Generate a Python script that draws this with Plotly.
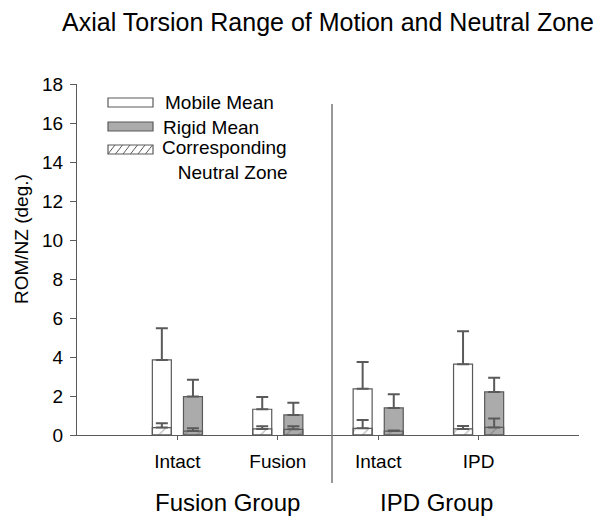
import plotly.graph_objects as go

# values (degrees)
categories = ["Intact", "Fusion", "Intact", "IPD"]
cat_pos = [1, 2, 3, 4]
groups = ["Fusion Group", "IPD Group"]

mobile_rom = [3.85, 1.32, 2.37, 3.63]
mobile_rom_err = [5.48, 1.95, 3.74, 5.32]
rigid_rom = [1.97, 1.03, 1.39, 2.21]
rigid_rom_err = [2.83, 1.65, 2.09, 2.93]

mobile_nz = [0.38, 0.31, 0.34, 0.31]
mobile_nz_err = [0.60, 0.45, 0.77, 0.46]
rigid_nz = [0.20, 0.29, 0.20, 0.39]
rigid_nz_err = [0.34, 0.45, 0.23, 0.84]

legend_labels = ["Mobile Mean", "Rigid Mean", "Corresponding<br>   Neutral Zone"]

edge = "#5a5a5a"
font = "Liberation Sans, Arial, sans-serif"

# plot area in page pixels (reference): left 77, top 84, 502 x 351
PX0, PY0, PW, PH = 77, 84, 502, 351


def px(x):
    return (x - PX0) / PW


def py(y):
    return (PY0 + PH - y) / PH


def up_err(top, val):
    return dict(type="data", symmetric=False,
                array=[t - v for t, v in zip(top, val)],
                arrayminus=[0] * len(val),
                color=edge, thickness=2, width=6)


fig = go.Figure()
fig.add_trace(go.Bar(x=cat_pos, y=mobile_rom, name=legend_labels[0], offsetgroup="m",
                     marker=dict(color="white", line=dict(color=edge, width=1.2)),
                     error_y=up_err(mobile_rom_err, mobile_rom)))
fig.add_trace(go.Bar(x=cat_pos, y=rigid_rom, name=legend_labels[1], offsetgroup="r",
                     marker=dict(color="#ababab", line=dict(color=edge, width=1.2)),
                     error_y=up_err(rigid_rom_err, rigid_rom)))
nz_marker = dict(color="rgba(0,0,0,0)", line=dict(color=edge, width=1.2),
                 pattern=dict(shape="/", fgcolor=edge, size=9, solidity=0.12,
                              fillmode="overlay"))
fig.add_trace(go.Bar(x=cat_pos, y=mobile_nz, name=legend_labels[2], offsetgroup="m",
                     marker=nz_marker, error_y=up_err(mobile_nz_err, mobile_nz)))
fig.add_trace(go.Bar(x=cat_pos, y=rigid_nz, name=legend_labels[2], offsetgroup="r",
                     marker=nz_marker, error_y=up_err(rigid_nz_err, rigid_nz)))

# divider between the two groups
fig.add_shape(type="line", xref="x", yref="paper", x0=2.54, x1=2.54, y0=-0.137, y1=0.943,
              line=dict(color="#777777", width=1.5))

# hand-drawn legend (wide rectangle keys like the original)
key_rows = [(98, 107), (122, 131), (145, 154)]
key_fills = ["white", "#ababab", "white"]
text_pos = [(163, 102), (161, 127), (160, 160)]
for (y0, y1), fill, label, (tx, ty) in zip(key_rows, key_fills, legend_labels, text_pos):
    fig.add_shape(type="rect", xref="paper", yref="paper", x0=px(108), x1=px(153),
                  y0=py(y1), y1=py(y0), fillcolor=fill, line=dict(color=edge, width=1.2))
    fig.add_annotation(text=label, x=px(tx), y=py(ty), xref="paper", yref="paper",
                       xanchor="left", yanchor="middle", align="left", showarrow=False,
                       font=dict(size=19, color="black", family=font))
y0, y1 = key_rows[2]
for k in range(6):
    xa = 108 + k * 7.5
    fig.add_shape(type="line", xref="paper", yref="paper", x0=px(xa), x1=px(min(xa + 7, 153)),
                  y0=py(y1), y1=py(y0), line=dict(color=edge, width=1))

for g, gx in zip(groups, [1.5, 3.58]):
    fig.add_annotation(text=g, x=gx, xref="x", y=py(503), yref="paper", showarrow=False,
                       yanchor="middle", font=dict(size=24, color="black", family=font))

fig.add_annotation(text="ROM/NZ (deg.)", textangle=-90, x=px(21), xref="paper", xanchor="center",
                   y=py(239), yref="paper", showarrow=False,
                   font=dict(size=19, color="black", family=font))

# page body has an 8px margin, so shift margins to keep the reference positions
fig.update_layout(
    width=602, height=526,
    margin=dict(l=PX0 - 8, r=602 - PX0 - PW + 8, t=PY0 - 8, b=526 - PY0 - PH + 8),
    paper_bgcolor="white", plot_bgcolor="white",
    barmode="group", bargap=0.38, bargroupgap=0.39,
    font=dict(family=font, size=19, color="black"),
    title=dict(text="Axial Torsion Range of Motion and Neutral Zone", x=320 / 602, xanchor="center",
               y=1 - 14 / 526, yanchor="middle", font=dict(size=25, color="black")),
    showlegend=False,
    xaxis=dict(range=[0, 5], tickvals=cat_pos, ticktext=categories, showgrid=False,
               zeroline=False, showline=True, linecolor=edge, linewidth=1.2,
               ticks="outside", ticklen=4, tickcolor=edge, ticklabelstandoff=5),
    yaxis=dict(range=[0, 18], dtick=2, showgrid=False, zeroline=False, showline=True,
               linecolor=edge, linewidth=1.2, ticks="outside", ticklen=6, tickcolor=edge,
               ticklabelstandoff=3),
)

fig.write_html("out.html")
